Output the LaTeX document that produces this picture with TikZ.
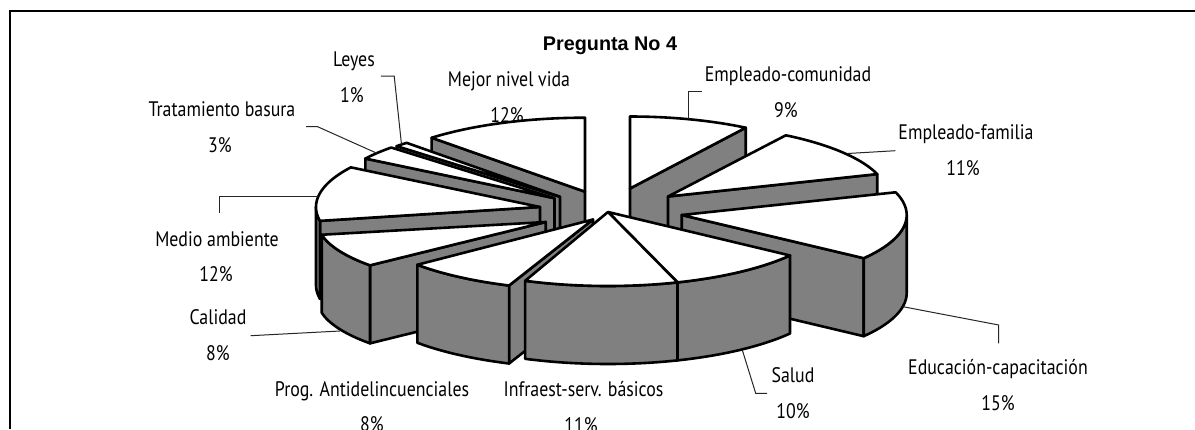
\documentclass[tikz,border=0pt]{standalone}
\usepackage{fontspec}
\setmainfont{Liberation Sans}
\newfontfamily\labfont[FakeStretch=0.85]{PT Sans}
\definecolor{pgray}{RGB}{128,128,128}
\tikzset{
  face/.style={fill=pgray, draw=black, line width=2.6pt, line join=round},
  topf/.style={fill=white, draw=black, line width=2.6pt, line join=round},
  lead/.style={draw=black!85, line width=1pt},
  lab/.style={font=\labfont\fontsize{21}{25}\selectfont, inner sep=0pt, anchor=base},
  ttl/.style={font=\fontsize{19.8}{24}\selectfont\bfseries, inner sep=0pt, anchor=base},
  frame/.style={draw=black, line width=1.6pt}
}
\def\hh{78}
\newcommand\setslice[6]{\def\ax{#1}\def\ay{#2}\def\sx{#3}\def\sy{#4}\def\ta{#5}\def\tb{#6}}
\newcommand\radface[1]{\filldraw[face] (\ax,\ay) -- ({\ax+\sx*sin(#1)},{\ay-\sy*cos(#1)}) -- ({\ax+\sx*sin(#1)},{\ay-\sy*cos(#1)+\hh}) -- (\ax,{\ay+\hh}) -- cycle;}
\newcommand\sideface[2]{\filldraw[face] plot[domain=#1:#2,samples=30,variable=\t] ({\ax+\sx*sin(\t)},{\ay-\sy*cos(\t)}) -- plot[domain=#2:#1,samples=30,variable=\t] ({\ax+\sx*sin(\t)},{\ay-\sy*cos(\t)+\hh}) -- cycle;}
\newcommand\topface{\filldraw[topf] (\ax,\ay) -- plot[domain=\ta:\tb,samples=40,variable=\t] ({\ax+\sx*sin(\t)},{\ay-\sy*cos(\t)}) -- cycle;}
\begin{document}
\begin{tikzpicture}[x=1pt,y=-1pt]
\useasboundingbox[fill=white] (0,0) rectangle (1195,429);
\draw[frame] (10,429) -- (10,11) -- (1195,11);
% slices, back to front
% Empleado-comunidad
\setslice{630}{188.5}{216}{72}{0}{32.4}\radface{32.4}\topface
% Mejor nivel vida
\setslice{585}{191.7}{224}{74}{316.8}{360}\radface{316.8}\topface
% Leyes
\setslice{560}{196.8}{224}{74}{313.2}{316.8}\radface{313.2}\topface
% Tratamiento basura
\setslice{554.5}{198.2}{224}{74}{302.4}{313.2}\radface{302.4}\topface
% Empleado-familia
\setslice{668}{196.5}{220}{72.5}{32.4}{72}\radface{72}\topface
% Medio ambiente
\setslice{540}{207}{224}{74}{259.2}{302.4}\radface{259.2}\sideface{259.2}{270}\topface
% Educacion
\setslice{681.7}{215}{225}{73.5}{72}{126}\radface{126}\sideface{90}{126}\topface
% Calidad
\setslice{545.7}{222}{228}{68}{230.4}{259.2}\radface{230.4}\sideface{230.4}{259.2}\topface
% Prog
\setslice{593}{219.5}{228}{71}{201.6}{230.4}\radface{201.6}\sideface{201.6}{230.4}\topface
% Salud
\setslice{608}{212}{225}{74}{126}{162}\sideface{126}{162}\topface
% Infraest
\setslice{608}{212}{225}{74}{162}{201.6}\sideface{162}{201.6}\topface

% title
\node[ttl] (title) at (610,50) {Pregunta No 4};
% labels
\node[lab] (leyes) at (354,66.5) {Leyes};
\node[lab] (leyesp) at (352,102) {1\%};
\node[lab] (trat) at (222,116.5) {Tratamiento basura};
\node[lab] (tratp) at (220,152) {3\%};
\node[lab] (mejor) at (509,86.5) {Mejor nivel vida};
\node[lab] (mejorp) at (507,122) {12\%};
\node[lab] (ecom) at (788,81.5) {Empleado-comunidad};
\node[lab] (ecomp) at (786,117) {9\%};
\node[lab] (efam) at (966,139.5) {Empleado-familia};
\node[lab] (efamp) at (963,175) {11\%};
\node[lab] (educ) at (998,374.5) {Educación-capacitación};
\node[lab] (educp) at (998,410) {15\%};
\node[lab] (salud) at (793,382.5) {Salud};
\node[lab] (saludp) at (793,418) {10\%};
\node[lab] (infra) at (583.6,396.5) {Infraest-serv. básicos};
\node[lab] (infrap) at (581,432) {11\%};
\node[lab] (prog) at (372,396) {Prog. Antidelincuenciales};
\node[lab] (progp) at (372,431.5) {8\%};
\node[lab] (cal) at (218,324.5) {Calidad};
\node[lab] (calp) at (218,360) {8\%};
\node[lab] (medio) at (217,246.2) {Medio ambiente};
\node[lab] (mediop) at (216,281.7) {12\%};

% leader lines
\coordinate (ec1) at (688.8,119); \coordinate (ec2) at (702,91.7);
\draw[lead] (ec1) |- (ec2);
\coordinate (ef1) at (847.6,153.5); \coordinate (ef2) at (895.4,150.7);
\draw[lead] (ef1) -- (ef2);
\coordinate (ed1) at (903,306.7); \coordinate (ed2) at (998.7,325); \coordinate (ed3) at (998.7,343.3);
\draw[lead] (ed1) -- (ed2) -- (ed3);
\coordinate (sa1) at (742.3,350); \coordinate (sa2) at (755.7,393.3); \coordinate (sa3) at (767.2,393.3);
\draw[lead] (sa1) -- (sa2) -- (sa3);
\coordinate (ca1) at (340,331); \coordinate (ca2) at (250.7,335.7);
\draw[lead] (ca1) -- (ca2);
\coordinate (ma1) at (318.3,196); \coordinate (ma2) at (219,196); \coordinate (ma3) at (219,213.3);
\draw[lead] (ma1) -- (ma2) -- (ma3);
\coordinate (tr1) at (377,153.3); \coordinate (tr2) at (317.6,126.7); \coordinate (tr3) at (306.2,126.7);
\draw[lead] (tr1) -- (tr2) -- (tr3);
\coordinate (le1) at (401.5,144.5); \coordinate (le2) at (394.2,76); \coordinate (le3) at (380.8,76);
\draw[lead] (le1) -- (le2) -- (le3);
\end{tikzpicture}
\end{document}
